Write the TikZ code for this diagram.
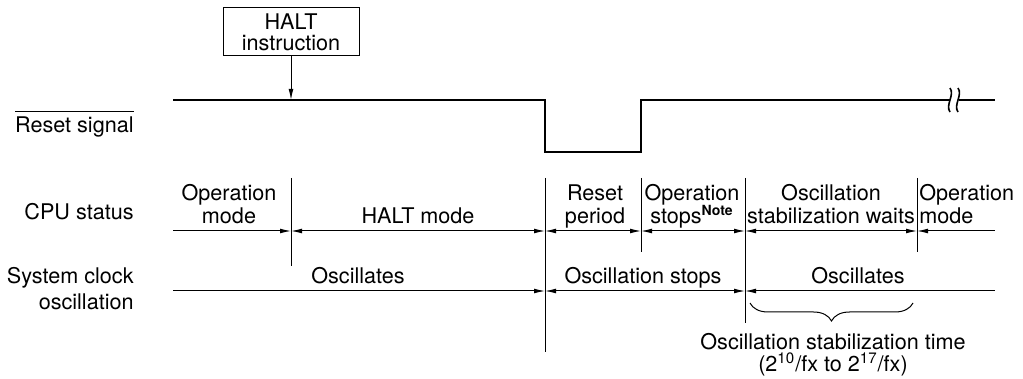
\documentclass[tikz,border=0pt]{standalone}
\usepackage{fontspec}
\setmainfont{TeX Gyre Heros}
\usetikzlibrary{arrows.meta, positioning, decorations.pathreplacing}

\tikzset{
    lbl/.style={align=center, inner sep=0pt, text depth=0pt},
    sig/.style={line width=1pt},
    thin line/.style={line width=0.5pt},
    dimline/.style={line width=0.5pt},
    >={Latex[length=5.5pt,width=2.4pt]},
}

\begin{document}
\begin{tikzpicture}[x=0.5pt, y=-0.5pt, font=\fontsize{10.8}{11.5}\selectfont]
    \useasboundingbox (0,0) rectangle (1023,379);

    % ---------------- reset signal ----------------
    \node[draw, thin line, lbl, minimum width=68pt, minimum height=24pt,
          font=\fontsize{10.8}{10.5}\selectfont] (halt) at (291,32) {HALT\\instruction};
    \coordinate (hit) at (291,100);
    \draw[thin line, ->] (halt) -- (hit);

    \coordinate (s0) at (173,100);
    \coordinate (fallhi) at (545,100);
    \coordinate (falllo) at (545,152);
    \coordinate (riselo) at (641,152);
    \coordinate (risehi) at (641,100);
    \coordinate (brkA) at (950,100);
    \coordinate (brkB) at (959,100);
    \coordinate (s1) at (995,100);
    \draw[sig] (s0) -- (fallhi) -- (falllo) -- (riselo) -- (risehi) -- (brkA);
    \draw[sig] (brkB) -- (s1);
    % break mark
    \foreach \bx in {950,958}{
        \draw[line width=0.8pt] (\bx,88) .. controls (\bx+5,95) and (\bx-5,105) .. (\bx,112);
    }

    % ---------------- row labels ----------------
    \node[lbl, anchor=base east] (rst) at (134,133) {$\overline{\mbox{\rule{0pt}{9.6pt}Reset signal}}$};
    \node[lbl, anchor=base east] (cpu) at (134,220) {CPU status};
    \node[lbl, anchor=south east, align=right, font=\fontsize{10.8}{13}\selectfont] (clk) at (134,310) {System clock\\oscillation};

    % ---------------- boundaries ----------------
    \foreach \x/\yb [count=\i] in {291/266, 545/352, 641/252, 745/323, 917/252}{
        \coordinate (t\i) at (\x,178);
        \coordinate (b\i) at (\x,\yb);
        \coordinate (c\i) at (\x,231);
        \coordinate (o\i) at (\x,291);
        \draw[thin line] (t\i) -- (b\i);
    }
    \coordinate (c0) at (173,231);  \coordinate (c6) at (995,231);
    \coordinate (o0) at (173,291);  \coordinate (o6) at (995,291);

    % CPU status
    \draw[dimline, ->] (c0) -- (c1);
    \draw[dimline, <->] (c1) -- (c2);
    \draw[dimline, <->] (c2) -- (c3);
    \draw[dimline, <->] (c3) -- (c4);
    \draw[dimline, <->] (c4) -- (c5);
    \draw[dimline, <-] (c5) -- (c6);
    \node[lbl, anchor=south] (opmode) at (229,224) {Operation\\mode};
    \node[lbl, anchor=base] (haltmode) at (418,224) {HALT mode};
    \node[lbl, anchor=south] (rstper) at (595,224) {Reset\\period};
    \node[lbl, anchor=south] (opstop) at (692,224) {Operation\\stops\textsuperscript{\bfseries\fontsize{7}{7}\selectfont Note}};
    \node[lbl, anchor=south] (oscwait) at (831,224) {Oscillation\\stabilization waits};
    \node[lbl, anchor=south west, align=left] (opmode2) at (919,224) {Operation\\mode};

    % system clock oscillation
    \draw[dimline, ->] (o0) -- (o2);
    \draw[dimline, <->] (o2) -- (o4);
    \draw[dimline, <-] (o4) -- (o6);
    \node[lbl, anchor=base] (osc1) at (358,284) {Oscillates};
    \node[lbl, anchor=base] (oscstop) at (643,284) {Oscillation stops};
    \node[lbl, anchor=base] (osc2) at (858,284) {Oscillates};

    % stabilization time
    \coordinate (br0) at (750,303);
    \coordinate (br1) at (913,303);
    \draw[thin line, decorate, decoration={brace, amplitude=9pt, mirror}] (br0) -- (br1);
    \node[lbl, anchor=south, font=\fontsize{10.8}{11}\selectfont] (stabtime) at (833,372)
        {Oscillation stabilization time\\(2\textsuperscript{10}/fx to 2\textsuperscript{17}/fx)};
\end{tikzpicture}
\end{document}
